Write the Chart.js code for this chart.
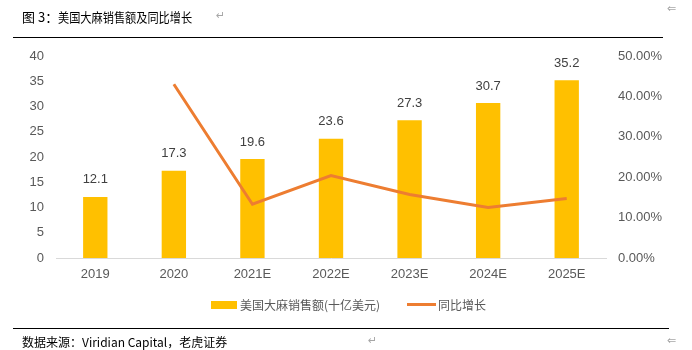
<!DOCTYPE html>
<html>
<head>
<meta charset="utf-8">
<script src="https://cdn.jsdelivr.net/npm/chart.js@4.4.1/dist/chart.umd.min.js"></script>
<style>
  html, body { margin: 0; padding: 0; background: #fff; }
  #wrap { position: relative; width: 692px; height: 350px; overflow: hidden; }
  #chart { position: absolute; left: 0; top: 0; }
  .txt { position: absolute; font-family: "Noto Sans CJK SC", sans-serif; color: #000; white-space: nowrap; }
  .narrow { transform: scaleX(0.86); transform-origin: left center; }
  .mark { position: absolute; color: #a6a6a6; font-family: "DejaVu Sans", sans-serif; font-size: 11px; }
  .rule { position: absolute; height: 1px; background: #000; }
  #legend { position: absolute; top: 296px; left: 211px; font-family: "Noto Sans CJK SC", sans-serif; font-size: 12px; color: #595959; }
  #legend span.item { position: absolute; white-space: nowrap; }
</style>
</head>
<body>
<div id="wrap">
  <canvas id="chart" width="692" height="350"></canvas>
  <div class="txt" style="left:22px; top:7px; font-size:13px;">图 3：</div>
  <div class="txt narrow" style="left:58px; top:7px; font-size:13px;">美国大麻销售额及同比增长</div>
  <div class="mark" style="left:216px; top:9px;">↵</div>
  <div class="mark" style="left:667px; top:2px;">⇐</div>
  <div class="rule" style="left:13px; top:37px; width:650px;"></div>
  <div class="rule" style="left:13px; top:328px; width:656px;"></div>
  <div class="txt" style="left:22px; top:333px; font-size:12px;">数据来源：Viridian Capital，老虎证券</div>
  <div class="mark" style="left:368px; top:334px;">↵</div>
  <div class="mark" style="left:667px; top:334px;">⇐</div>
  <div id="legend"></div>
</div>
<script>
// 年份與數值
const years = ['2019', '2020', '2021E', '2022E', '2023E', '2024E', '2025E'];
const sales = [12.1, 17.3, 19.6, 23.6, 27.3, 30.7, 35.2];
const growth = [null, 43.0, 13.3, 20.4, 15.7, 12.5, 14.7];
const salesLabel = '美国大麻销售额(十亿美元)';
const growthLabel = '同比增长';

const barColor = '#FFC000';
const lineColor = '#ED7D31';
const tickColor = '#595959';
const tickFont = { family: 'Liberation Sans', size: 13 };

// 柱子上方數值
const barLabels = {
  id: 'barLabels',
  afterDatasetsDraw(chart) {
    const ctx = chart.ctx;
    const meta = chart.getDatasetMeta(0);
    ctx.save();
    ctx.font = '13px "Liberation Sans"';
    ctx.fillStyle = '#404040';
    ctx.textAlign = 'center';
    ctx.textBaseline = 'middle';
    meta.data.forEach((bar, i) => {
      ctx.fillText(sales[i].toFixed(1), bar.x, bar.y - 17);
    });
    ctx.restore();
  }
};

const chart = new Chart(document.getElementById('chart').getContext('2d'), {
  type: 'bar',
  data: {
    labels: years,
    datasets: [
      {
        type: 'bar',
        label: salesLabel,
        data: sales,
        backgroundColor: barColor,
        yAxisID: 'y',
        categoryPercentage: 1,
        barPercentage: 0.31,
        order: 2
      },
      {
        type: 'line',
        label: growthLabel,
        data: growth,
        borderColor: lineColor,
        borderWidth: 3,
        pointRadius: 0,
        tension: 0,
        fill: false,
        yAxisID: 'y1',
        order: 1
      }
    ]
  },
  options: {
    responsive: false,
    animation: false,
    layout: { padding: { left: 0, right: 0, top: 56, bottom: 62 } },
    plugins: { legend: { display: false }, tooltip: { enabled: false } },
    scales: {
      x: {
        grid: { display: false, drawTicks: false },
        border: { display: true, color: '#d9d9d9', width: 1 },
        ticks: { color: tickColor, font: tickFont, padding: 9, maxRotation: 0 },
        afterFit(s) { s.height = 30; }
      },
      y: {
        position: 'left',
        min: 0, max: 40,
        grid: { display: false, drawTicks: false },
        border: { display: false },
        ticks: { stepSize: 5, color: tickColor, font: tickFont, padding: 12 },
        afterFit(s) { s.width = 56; }
      },
      y1: {
        position: 'right',
        min: 0, max: 50,
        grid: { display: false, drawTicks: false },
        border: { display: false },
        ticks: {
          stepSize: 10, color: tickColor, font: tickFont, padding: 12,
          callback: v => v.toFixed(2) + '%'
        },
        afterFit(s) { s.width = 86; }
      }
    }
  },
  plugins: [barLabels]
});

// 圖例
const legend = document.getElementById('legend');
legend.innerHTML =
  `<span class="item" style="left:0; top:5px; width:26px; height:8px; background:${barColor}"></span>` +
  `<span class="item" style="left:29px; top:0;">${salesLabel}</span>` +
  `<span class="item" style="left:196px; top:7px; width:29px; height:3px; background:${lineColor}"></span>` +
  `<span class="item" style="left:227px; top:0;">${growthLabel}</span>`;
</script>
</body>
</html>
